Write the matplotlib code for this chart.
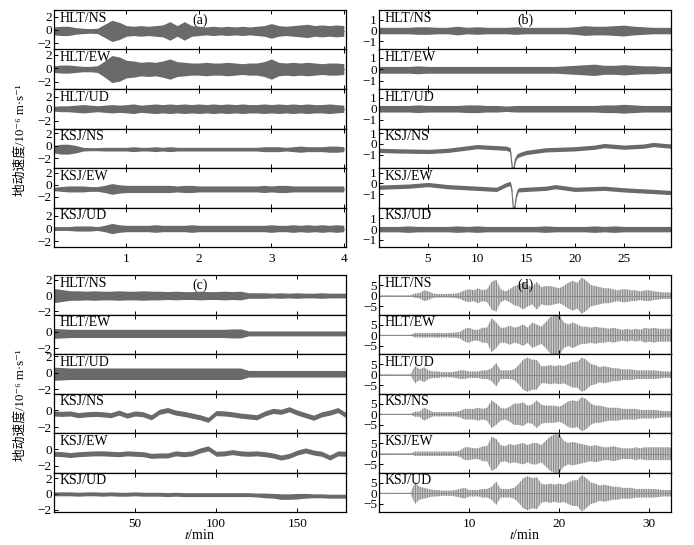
import numpy as np
import matplotlib.pyplot as plt

plt.rcParams['font.family'] = ['Liberation Serif', 'DejaVu Serif']
plt.rcParams['mathtext.fontset'] = 'stix'
plt.rcParams['hatch.linewidth'] = 0.9

stations = ['HLT/NS', 'HLT/EW', 'HLT/UD', 'KSJ/NS', 'KSJ/EW', 'KSJ/UD']
ylabel = '地动速度/10⁻⁶ m·s⁻¹'

# ---- panel (a): envelope half-amplitude every 0.1 min, 0..4 min
t_a = np.linspace(0, 4, 41)
amp_a_hlt_ns = [0.6, 0.7, 0.7, 0.5, 0.4, 0.35, 0.4, 1.0, 1.6, 1.3, 0.8, 0.7, 0.8, 0.7, 0.8, 0.9, 1.4, 0.8, 1.4, 0.8, 0.7,
                0.6, 0.7, 0.6, 0.7, 0.6, 0.7, 0.6, 0.7, 0.8, 1.1, 0.8, 0.7, 0.8, 0.9, 1.0, 0.8, 0.9, 0.8, 0.9, 0.8]
amp_a_hlt_ew = [0.5, 0.6, 0.6, 0.5, 0.4, 0.4, 0.5, 1.2, 2.0, 1.8, 1.3, 1.2, 1.0, 1.1, 1.0, 1.2, 1.5, 1.1, 1.0, 0.9, 0.9,
                1.0, 0.9, 0.9, 1.0, 0.9, 0.8, 0.9, 0.9, 1.1, 1.5, 1.0, 0.9, 1.0, 0.9, 1.0, 0.9, 0.8, 0.9, 0.9, 0.8]
amp_a_hlt_ud = [0.4, 0.5, 0.5, 0.6, 0.7, 0.6, 0.5, 0.6, 0.7, 0.6, 0.7, 0.8, 0.6, 0.7, 0.8, 0.7, 0.8, 0.7, 0.8, 0.7, 0.8,
                0.7, 0.8, 0.7, 0.8, 0.7, 0.8, 0.7, 0.7, 0.8, 0.7, 0.8, 0.7, 0.8, 0.7, 0.8, 0.7, 0.7, 0.8, 0.7, 0.6]
amp_a_ksj_ns = [0.6, 0.8, 0.8, 0.6, 0.3, 0.25, 0.25, 0.3, 0.3, 0.3, 0.3, 0.4, 0.3, 0.3, 0.4, 0.3, 0.4, 0.3, 0.3, 0.3, 0.3,
                0.3, 0.3, 0.3, 0.3, 0.3, 0.3, 0.3, 0.3, 0.4, 0.4, 0.4, 0.3, 0.4, 0.5, 0.4, 0.4, 0.4, 0.5, 0.5, 0.4]
amp_a_ksj_ew = [0.3, 0.4, 0.5, 0.5, 0.5, 0.4, 0.4, 0.6, 0.9, 0.7, 0.6, 0.6, 0.6, 0.6, 0.6, 0.6, 0.6, 0.5, 0.6, 0.6, 0.5,
                0.5, 0.5, 0.5, 0.5, 0.5, 0.5, 0.5, 0.5, 0.6, 0.5, 0.6, 0.6, 0.5, 0.5, 0.5, 0.5, 0.5, 0.5, 0.5, 0.5]
amp_a_ksj_ud = [0.3, 0.3, 0.3, 0.4, 0.4, 0.4, 0.3, 0.5, 0.8, 0.6, 0.5, 0.5, 0.5, 0.5, 0.6, 0.5, 0.5, 0.5, 0.5, 0.6, 0.5,
                0.5, 0.5, 0.5, 0.5, 0.5, 0.5, 0.5, 0.5, 0.5, 0.6, 0.5, 0.5, 0.6, 0.5, 0.6, 0.5, 0.6, 0.5, 0.6, 0.5]
base_a = [-0.15, -0.15, 0.0, -0.55, -0.7, 0.0]
ylim_a = [(-2.95, 3.0), (-3.1, 2.75), (-3.3, 3.3), (-3.6, 2.8), (-3.8, 2.8), (-2.9, 3.3)]

# ---- panel (b): envelope every 1 min, 0..30 min; KSJ horizontals with step
t_b = np.arange(0, 31, 1.0)
amp_b_hlt_ns = [0.3, 0.3, 0.3, 0.3, 0.35, 0.35, 0.3, 0.3, 0.4, 0.3, 0.35, 0.3, 0.3, 0.3, 0.35, 0.3, 0.3, 0.3, 0.3, 0.3,
                0.35, 0.45, 0.4, 0.4, 0.45, 0.5, 0.4, 0.35, 0.3, 0.3, 0.3]
amp_b_hlt_ew = [0.3, 0.3, 0.3, 0.3, 0.35, 0.3, 0.3, 0.3, 0.3, 0.3, 0.3, 0.3, 0.3, 0.3, 0.3, 0.3, 0.3, 0.3, 0.3, 0.35,
                0.4, 0.45, 0.5, 0.4, 0.4, 0.45, 0.4, 0.35, 0.35, 0.3, 0.3]
amp_b_hlt_ud = [0.3, 0.3, 0.3, 0.3, 0.35, 0.3, 0.3, 0.3, 0.3, 0.35, 0.35, 0.3, 0.3, 0.25, 0.3, 0.3, 0.3, 0.3, 0.3, 0.3,
                0.3, 0.3, 0.3, 0.35, 0.35, 0.4, 0.35, 0.3, 0.3, 0.3, 0.3]
amp_b_ksj_ud = [0.25, 0.25, 0.25, 0.3, 0.25, 0.25, 0.25, 0.25, 0.3, 0.25, 0.3, 0.25, 0.25, 0.25, 0.25, 0.25, 0.25, 0.3,
                0.25, 0.25, 0.25, 0.25, 0.3, 0.25, 0.3, 0.25, 0.25, 0.25, 0.25, 0.25, 0.25]
t_b_ksj_ns = [0, 2, 5, 7, 10, 12, 13, 13.4, 13.6, 13.75, 13.9, 14.1, 14.5, 15, 17, 20, 22, 23, 25, 27, 28, 29.8]
base_b_ksj_ns = [-0.6, -0.65, -0.7, -0.6, -0.25, -0.35, -0.4, -0.55, -2.3, -2.3, -1.5, -1.1, -0.95, -0.8, -0.55, -0.45,
                 -0.3, -0.15, -0.3, -0.2, -0.05, -0.2]
t_b_ksj_ew = [0, 3, 5, 7, 10, 12, 13, 13.4, 13.55, 13.7, 13.85, 14.0, 14.2, 15, 17, 18, 20, 23, 25, 28, 29.8]
base_b_ksj_ew = [-0.35, -0.25, -0.1, -0.3, -0.45, -0.55, -0.1, 0.0, -0.6, -2.3, -2.3, -1.2, -0.6, -0.55, -0.45, -0.3,
                 -0.55, -0.45, -0.6, -0.75, -0.85]
ylim_b = [(-1.75, 1.9), (-1.75, 1.75), (-1.8, 1.8), (-2.25, 1.45), (-2.25, 1.45), (-1.65, 2.0)]

# ---- panel (c): every 5 min, 0..180 min
t_c = np.arange(0, 181, 5.0)
amp_c_hlt_ns = [0.9, 0.75, 0.6, 0.6, 0.55, 0.6, 0.55, 0.55, 0.6, 0.55, 0.55, 0.6, 0.55, 0.55, 0.5, 0.55, 0.5, 0.5, 0.55,
                0.5, 0.5, 0.55, 0.5, 0.55, 0.35, 0.35, 0.35, 0.3, 0.35, 0.3, 0.35, 0.3, 0.3, 0.35, 0.3, 0.3, 0.3]
amp_c_hlt_ew = [0.6, 0.55, 0.5, 0.5, 0.5, 0.5, 0.5, 0.5, 0.5, 0.5, 0.5, 0.5, 0.5, 0.5, 0.5, 0.5, 0.5, 0.5, 0.5, 0.5,
                0.5, 0.5, 0.55, 0.55, 0.3, 0.3, 0.3, 0.3, 0.3, 0.3, 0.3, 0.3, 0.3, 0.3, 0.3, 0.3, 0.3]
amp_c_hlt_ud = [0.8, 0.75, 0.7, 0.7, 0.7, 0.7, 0.7, 0.7, 0.7, 0.7, 0.7, 0.7, 0.7, 0.7, 0.7, 0.7, 0.7, 0.7, 0.7, 0.7,
                0.7, 0.7, 0.7, 0.7, 0.4, 0.4, 0.4, 0.4, 0.4, 0.4, 0.4, 0.4, 0.4, 0.4, 0.4, 0.4, 0.4]
base_c_ksj_ns = [-0.4, -0.45, -0.4, -0.6, -0.5, -0.45, -0.5, -0.6, -0.3, -0.65, -0.4, -0.5, -0.85, -0.2, 0.0, -0.3, -0.45,
                 -0.65, -0.85, -1.15, -0.35, -0.4, -0.5, -0.65, -0.75, -0.85, -0.4, -0.1, -0.2, 0.1, -0.3, -0.6, -0.9,
                 -0.5, -0.3, 0.0, -0.6]
base_c_ksj_ew = [-0.55, -0.6, -0.7, -0.6, -0.55, -0.5, -0.5, -0.55, -0.6, -0.5, -0.55, -0.6, -0.8, -0.75, -0.75, -0.5,
                 -0.6, -0.5, -0.15, 0.1, -0.55, -0.5, -0.35, -0.5, -0.55, -0.5, -0.6, -0.75, -1.0, -0.8, -0.4, -0.15,
                 -0.4, -0.55, -1.0, -0.5, -0.55]
base_c_ksj_ud = [0.0, 0.0, 0.0, -0.05, 0.0, 0.0, -0.05, 0.0, -0.05, -0.05, 0.0, -0.05, -0.05, -0.05, -0.1, -0.05, -0.1,
                 -0.1, -0.1, -0.1, -0.1, -0.1, -0.1, -0.1, -0.1, -0.15, -0.2, -0.25, -0.35, -0.35, -0.3, -0.25, -0.25,
                 -0.25, -0.3, -0.3, -0.3]
amp_c_ksj_ud = [0.25, 0.25, 0.25, 0.25, 0.25, 0.25, 0.25, 0.25, 0.25, 0.25, 0.25, 0.25, 0.25, 0.25, 0.25, 0.25, 0.25,
                0.25, 0.25, 0.25, 0.25, 0.25, 0.25, 0.25, 0.25, 0.25, 0.3, 0.3, 0.35, 0.35, 0.35, 0.3, 0.25, 0.25, 0.25,
                0.25, 0.25]
ylim_c = [(-2.4, 2.6), (-2.7, 2.1), (-2.5, 2.3), (-2.7, 1.95), (-2.8, 1.95), (-2.3, 2.7)]
yticks_c = [[-2, 0, 2], [-2, 0], [-2, 0, 2], [-2, 0], [-2, 0], [-2, 0, 2]]

# ---- panel (d): every 0.5 min, 0..32.5 min
t_d = np.arange(0, 33, 0.5)
amp_d_hlt_ns = [0.2, 0.2, 0.2, 0.2, 0.2, 0.2, 0.2, 0.2, 1.0, 1.2, 2.5, 2.0, 1.0, 0.8, 0.8, 0.8, 0.9, 1.0, 1.5, 2.5, 3.0,
                2.5, 3.5, 2.5, 3.0, 6.5, 7.5, 3.0, 2.0, 3.0, 4.5, 5.0, 6.5, 5.0, 4.0, 6.5, 4.0, 4.5, 4.5, 4.0, 3.5, 4.5,
                6.0, 7.0, 6.0, 8.5, 7.0, 5.0, 4.5, 4.0, 3.5, 3.5, 3.0, 2.5, 3.0, 3.0, 2.5, 2.5, 2.0, 2.5, 2.5, 2.0, 1.8,
                1.5, 1.5, 1.5]
amp_d_hlt_ew = [0.2, 0.2, 0.2, 0.2, 0.2, 0.2, 0.2, 0.2, 1.0, 1.0, 1.1, 1.0, 1.0, 1.1, 1.0, 1.0, 1.1, 1.2, 1.5, 3.0, 3.5,
                2.5, 2.5, 3.5, 3.5, 8.0, 6.0, 3.5, 3.5, 4.5, 3.5, 4.0, 5.0, 3.5, 6.0, 5.0, 4.0, 6.0, 8.5, 9.0, 9.5, 6.0,
                5.0, 6.0, 5.0, 4.0, 4.0, 3.5, 4.0, 3.5, 3.5, 3.0, 3.5, 3.0, 2.5, 3.0, 2.5, 3.0, 2.5, 3.5, 3.0, 3.5, 3.0,
                3.0, 3.0, 3.0]
amp_d_hlt_ud = [0.2, 0.2, 0.2, 0.2, 0.2, 0.2, 0.2, 0.2, 4.0, 2.5, 3.5, 2.0, 1.5, 1.5, 1.2, 1.2, 1.2, 1.5, 2.0, 2.0, 1.5,
                1.5, 1.5, 2.0, 2.0, 3.0, 5.5, 2.0, 2.0, 2.0, 2.5, 4.5, 7.0, 8.0, 7.0, 7.0, 4.0, 4.0, 4.5, 4.0, 4.5, 4.0,
                5.0, 6.0, 6.0, 8.0, 7.0, 5.0, 4.5, 3.5, 4.0, 3.5, 3.0, 3.0, 2.5, 2.5, 2.5, 2.0, 2.0, 2.0, 2.0, 2.0, 1.8,
                1.5, 1.5, 1.5]
amp_d_ksj_ns = [0.2, 0.2, 0.2, 0.2, 0.2, 0.2, 0.2, 0.2, 1.2, 1.2, 3.0, 2.0, 1.0, 1.0, 1.0, 1.0, 1.0, 1.0, 1.5, 2.5, 2.5,
                2.5, 3.0, 2.5, 3.0, 6.5, 5.0, 3.0, 2.5, 3.5, 5.0, 5.0, 5.5, 4.0, 4.5, 6.5, 4.5, 4.0, 4.0, 4.0, 3.5, 4.5,
                6.0, 6.5, 6.0, 8.0, 7.0, 5.0, 4.0, 4.0, 3.5, 3.0, 3.0, 3.0, 2.5, 2.5, 2.5, 2.5, 2.0, 2.0, 2.0, 2.0, 1.8,
                1.5, 1.5, 1.5]
amp_d_ksj_ew = [0.2, 0.2, 0.2, 0.2, 0.2, 0.2, 0.2, 0.2, 1.0, 1.0, 1.0, 1.0, 1.0, 1.0, 1.0, 1.0, 1.0, 1.0, 1.5, 3.0, 3.0,
                2.5, 2.5, 3.5, 3.5, 8.0, 7.0, 4.0, 3.5, 4.5, 4.0, 4.5, 5.0, 4.0, 5.0, 5.0, 4.0, 6.0, 8.0, 9.0, 9.0, 6.0,
                5.0, 5.5, 5.0, 4.5, 4.0, 3.5, 4.0, 3.5, 3.0, 3.0, 3.5, 3.0, 2.5, 2.5, 2.5, 3.0, 2.5, 3.0, 3.0, 3.0, 3.0,
                3.0, 3.0, 3.0]
amp_d_ksj_ud = [0.2, 0.2, 0.2, 0.2, 0.2, 0.2, 0.2, 0.2, 5.0, 3.0, 2.5, 2.0, 1.5, 1.5, 1.2, 1.2, 1.2, 1.5, 2.0, 2.5, 1.5,
                1.5, 1.5, 2.0, 2.0, 3.0, 5.5, 2.0, 2.0, 2.0, 2.5, 4.5, 7.0, 8.0, 7.0, 7.5, 4.5, 4.0, 4.5, 4.0, 4.5, 4.0,
                5.0, 6.0, 6.0, 8.5, 7.0, 5.0, 4.5, 3.5, 4.0, 3.5, 3.0, 3.0, 2.5, 2.5, 2.5, 2.0, 2.0, 2.0, 2.0, 2.0, 1.8,
                1.5, 1.5, 1.5]
ylim_d = [(-8.8, 9.7)] * 6

W, H = 694, 545
fig = plt.figure(figsize=(W / 100, H / 100), dpi=100)


def draw_panel(x0, x1, y0, y1, times, bases, amps, ylims, yticks, xlim, xticks, style, letter, xlabel):
    rh = (y1 - y0) / 6
    for i in range(6):
        top = y0 + i * rh
        ax = fig.add_axes([x0 / W, 1 - (top + rh) / H, (x1 - x0) / W, rh / H])
        t = np.asarray(times[i], dtype=float)
        b = np.broadcast_to(np.asarray(bases[i], dtype=float), t.shape)
        a = np.broadcast_to(np.asarray(amps[i], dtype=float), t.shape)
        ax.fill_between(t, b - a, b + a, lw=0, **style)
        ax.plot(t, b, color=style['edgecolor'], lw=0.7)
        ax.set_xlim(*xlim)
        ax.set_ylim(*ylims[i])
        ax.set_yticks(yticks[i])
        ax.set_xticks(xticks)
        ax.tick_params(direction='in', top=True, length=3, width=0.7, labelsize=9.5, pad=1.5)
        for s in ax.spines.values():
            s.set_linewidth(0.9)
        if i < 5:
            ax.tick_params(labelbottom=False)
        else:
            ax.tick_params(axis='x', pad=4)
        ax.text(0.02, 0.95, stations[i], transform=ax.transAxes, ha='left', va='top', fontsize=10)
        if i == 0:
            ax.text(0.5, 0.74, letter, transform=ax.transAxes, ha='center', va='center', fontsize=10)
        if i == 5 and xlabel:
            ax.set_xlabel('$\\mathit{t}$/min', fontsize=10, labelpad=-1)


dense = dict(facecolor='#6a6a6a', edgecolor='#6a6a6a')
sparse = dict(facecolor='#d2d2d2', edgecolor='#8a8a8a', hatch='|' * 7)

draw_panel(54, 346, 10, 247, [t_a] * 6,
           base_a, [amp_a_hlt_ns, amp_a_hlt_ew, amp_a_hlt_ud, amp_a_ksj_ns, amp_a_ksj_ew, amp_a_ksj_ud],
           ylim_a, [[-2, 0, 2]] * 6, (0, 4.03), [1, 2, 3, 4], dense, '(a)', False)

draw_panel(379, 671, 10, 247, [t_b, t_b, t_b, t_b_ksj_ns, t_b_ksj_ew, t_b],
           [0.0, -0.05, 0.0, base_b_ksj_ns, base_b_ksj_ew, 0.0],
           [amp_b_hlt_ns, amp_b_hlt_ew, amp_b_hlt_ud, 0.2, 0.2, amp_b_ksj_ud],
           ylim_b, [[-1, 0, 1]] * 6, (0, 29.8), [5, 10, 15, 20, 25], dense, '(b)', False)

draw_panel(54, 346, 275, 512, [t_c] * 6,
           [0.0, -0.2, -0.1, base_c_ksj_ns, base_c_ksj_ew, base_c_ksj_ud],
           [amp_c_hlt_ns, amp_c_hlt_ew, amp_c_hlt_ud, 0.3, 0.3, amp_c_ksj_ud],
           ylim_c, yticks_c, (0, 180), [50, 100, 150], dense, '(c)', True)

draw_panel(379, 671, 275, 512, [t_d] * 6, [0.0] * 6,
           [amp_d_hlt_ns, amp_d_hlt_ew, amp_d_hlt_ud, amp_d_ksj_ns, amp_d_ksj_ew, amp_d_ksj_ud],
           ylim_d, [[-5, 0, 5]] * 6, (0, 32.4), [10, 20, 30], sparse, '(d)', True)

lab_font = ['Liberation Serif', 'Noto Sans CJK SC', 'DejaVu Sans']
fig.text(20 / W, 1 - 140 / H, ylabel, rotation=90, ha='center', va='center', fontsize=9.2, family=lab_font)
fig.text(20 / W, 1 - 405 / H, ylabel, rotation=90, ha='center', va='center', fontsize=9.2, family=lab_font)

fig.savefig('out.png', dpi=100)
